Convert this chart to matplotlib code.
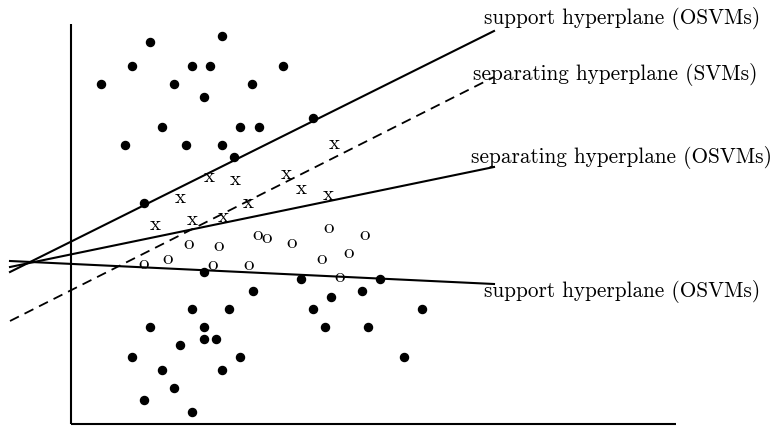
import matplotlib
matplotlib.use("Agg")
import matplotlib.pyplot as plt

# Coordinates (pixel-like units, y downward)
dots_x = [150, 222, 132, 192, 210, 283, 101, 174, 252, 204, 313, 162, 240, 259, 125, 186, 222, 234, 144,
          204, 301, 380, 253, 331, 362, 192, 229, 313, 422, 150, 204, 325, 368, 204, 216, 180, 132, 240,
          404, 162, 222, 174, 144, 192]
dots_y = [43, 37, 67, 67, 67, 67, 85, 85, 85, 98, 119, 128, 128, 128, 146, 146, 146, 158, 204,
          273, 280, 280, 292, 298, 292, 310, 310, 310, 310, 328, 328, 328, 328, 340, 340, 346, 358, 358,
          358, 371, 371, 389, 401, 413]

xs_x = [334, 209, 235, 286, 180, 301, 328, 248, 155, 192, 223]
xs_y = [144, 177, 180, 174, 198, 189, 195, 203, 225, 220, 217]

os_x = [144, 168, 189, 219, 258, 267, 292, 329, 365, 213, 249, 322, 349, 340]
os_y = [264, 259, 244, 246, 235, 238, 243, 228, 235, 265, 265, 259, 253, 277]

# Hyperplanes: (x0, y0, x1, y1)
upper_support = (10, 273, 494, 32)
svm_sep = (10, 322, 494, 78)
osvm_sep = (10, 268, 494, 168)
lower_support = (10, 262, 494, 285)

labels = ["support hyperplane (OSVMs)", "separating hyperplane (SVMs)",
          "separating hyperplane (OSVMs)", "support hyperplane (OSVMs)"]
label_x = [484, 473, 471, 484]
label_y = [19, 74, 158, 292]

fig = plt.figure(figsize=(7.74, 4.27), dpi=100)
ax = fig.add_axes([0, 0, 1, 1])
ax.set_xlim(0, 774)
ax.set_ylim(427, 0)
ax.axis("off")

# axes
ax.plot([71, 71], [25, 425], color="black", lw=1.5, solid_capstyle="butt")
ax.plot([71, 676], [425, 425], color="black", lw=1.5, solid_capstyle="butt")

for ln in (upper_support, osvm_sep, lower_support):
    ax.plot([ln[0], ln[2]], [ln[1], ln[3]], color="black", lw=1.5)
ax.plot([svm_sep[0], svm_sep[2]], [svm_sep[1], svm_sep[3]], color="black", lw=1.3,
        dashes=(5.5, 3.5))

ax.plot(dots_x, dots_y, "o", color="black", markersize=5.8, ls="none")

for x, y in zip(xs_x, xs_y):
    ax.text(x, y, "x", family="cmr10", fontsize=15, ha="center", va="center")
for x, y in zip(os_x, os_y):
    ax.text(x, y, "o", family="cmr10", fontsize=15, ha="center", va="center")

for t, x, y in zip(labels, label_x, label_y):
    ax.text(x, y, t, family="cmr10", fontsize=15.3, ha="left", va="center")

fig.savefig("out.png", dpi=100)
